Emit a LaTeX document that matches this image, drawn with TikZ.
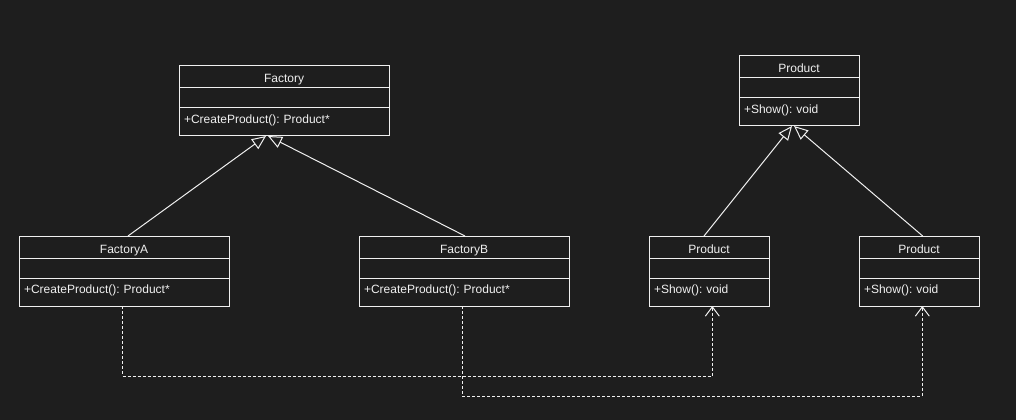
\documentclass[tikz,border=0pt]{standalone}
\usepackage{fontspec}
\setmainfont{Liberation Sans}
\usetikzlibrary{positioning,arrows.meta}
\definecolor{bgcol}{HTML}{1E1E1E}
\definecolor{fgcol}{HTML}{F0F0F0}
\frenchspacing

\begin{document}
\begin{tikzpicture}[x=0.75pt,y=-0.75pt,
    every node/.style={font=\fontsize{9pt}{11pt}\selectfont, text=fgcol},
    classname/.style={draw=fgcol, fill=bgcol, line width=0.75pt, inner sep=0pt, outer sep=0pt, minimum width=#1, text height=12.75pt, text depth=3.75pt},
    classattr/.style={draw=fgcol, fill=bgcol, line width=0.75pt, inner sep=0pt, outer sep=0pt, minimum width=#1, minimum height=15pt},
    classop/.style={draw=fgcol, fill=bgcol, line width=0.75pt, inner xsep=3.75pt, inner ysep=0pt, outer sep=0pt, text width=#1, align=left, text height=11.7pt, text depth=9.3pt},
    extends/.style={draw=fgcol, line width=0.75pt, -{Triangle[open, length=10.5pt, width=9pt]}},
    depends/.style={draw=fgcol, line width=0.75pt, dash pattern=on 2.25pt off 1.5pt, -{Straight Barb[length=7pt, width=10.5pt]}}]
    % Background
    \fill[bgcol] (0,0) rectangle (1016,420);
    \useasboundingbox (0,0) rectangle (1016,420);

    % Factory classes
    \node[classname=157.5pt] (factory) at (284,77) {Factory};
    \node[classattr=157.5pt, below=0pt of factory] (factory-attr) {};
    \node[classop=150pt, below=0pt of factory-attr] (factory-op) {+CreateProduct(): Product*};

    \node[classname=157.5pt] (factoryA) at (124,247) {FactoryA};
    \node[classattr=157.5pt, below=0pt of factoryA] (factoryA-attr) {};
    \node[classop=150pt, below=0pt of factoryA-attr] (factoryA-op) {+CreateProduct(): Product*};

    \node[classname=157.5pt] (factoryB) at (464,247) {FactoryB};
    \node[classattr=157.5pt, below=0pt of factoryB] (factoryB-attr) {};
    \node[classop=150pt, below=0pt of factoryB-attr] (factoryB-op) {+CreateProduct(): Product*};

    % Product classes
    \node[classname=90pt] (product) at (799,67) {Product};
    \node[classattr=90pt, below=0pt of product] (product-attr) {};
    \node[classop=82.5pt, below=0pt of product-attr] (product-op) {+Show(): void};

    \node[classname=90pt] (productL) at (709,247) {Product};
    \node[classattr=90pt, below=0pt of productL] (productL-attr) {};
    \node[classop=82.5pt, below=0pt of productL-attr] (productL-op) {+Show(): void};

    \node[classname=90pt] (productR) at (919,247) {Product};
    \node[classattr=90pt, below=0pt of productR] (productR-attr) {};
    \node[classop=82.5pt, below=0pt of productR-attr] (productR-op) {+Show(): void};

    % Inheritance
    \draw[extends] ([xshift=3pt]factoryA.north) -- ([xshift=-13.5pt]factory-op.south);
    \draw[extends] ([xshift=0.75pt]factoryB.north) -- ([xshift=-12pt]factory-op.south);
    \draw[extends] ([xshift=-3.75pt]productL.north) -- ([xshift=-5.25pt]product-op.south);
    \draw[extends] ([xshift=2.75pt]productR.north) -- ([xshift=-3.75pt]product-op.south);

    % Dependencies
    \draw[depends] ([xshift=-1pt]factoryA-op.south) -- ++(0,70) -| ([xshift=2.5pt]productL-op.south);
    \draw[depends] ([xshift=-1.25pt]factoryB-op.south) -- ++(0,90) -| ([xshift=2.5pt]productR-op.south);
\end{tikzpicture}
\end{document}
